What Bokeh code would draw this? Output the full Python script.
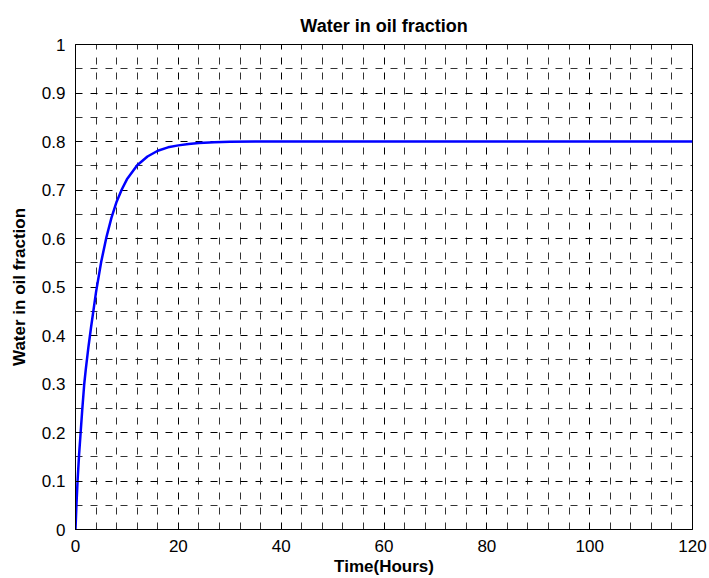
from bokeh.plotting import figure
from bokeh.models import Range1d, FixedTicker, CustomJSTickFormatter
from bokeh.embed import file_html
from bokeh.resources import INLINE

# Data
time_hours = [0, 0.2, 0.4, 0.7, 1, 1.3, 1.7, 2, 2.5, 3, 4, 5, 6, 7, 8, 9, 10,
              12, 14, 16, 18, 20, 22, 24, 27, 30, 35, 40, 60, 80, 100, 120]
water_fraction = [0.0, 0.055, 0.1, 0.155, 0.2, 0.245, 0.3, 0.33, 0.375, 0.415,
                  0.49, 0.552, 0.602, 0.643, 0.676, 0.701, 0.722, 0.751, 0.769,
                  0.781, 0.788, 0.792, 0.795, 0.797, 0.7985, 0.7993, 0.7998,
                  0.8, 0.8, 0.8, 0.8, 0.8]

x_ticks = [0, 20, 40, 60, 80, 100, 120]
x_minor = [4, 8, 12, 16, 24, 28, 32, 36, 44, 48, 52, 56, 64, 68, 72, 76,
           84, 88, 92, 96, 104, 108, 112, 116]
y_ticks = [0, 0.1, 0.2, 0.3, 0.4, 0.5, 0.6, 0.7, 0.8, 0.9, 1.0]
y_minor = [0.05, 0.15, 0.25, 0.35, 0.45, 0.55, 0.65, 0.75, 0.85, 0.95]

FONT = "Liberation Sans"

p = figure(width=709, height=578, output_backend="svg", toolbar_location=None,
           x_range=Range1d(0, 120), y_range=Range1d(0, 1),
           min_border_left=75, min_border_right=17, min_border_top=44,
           min_border_bottom=48,
           title="Water in oil fraction")

p.background_fill_color = "white"
p.border_fill_color = "white"
p.outline_line_color = "black"
p.outline_line_width = 1

p.title.align = "center"
p.title.text_font = FONT
p.title.text_font_size = "18px"
p.title.text_font_style = "bold"
p.title.text_color = "black"
p.title.offset = 0
p.title.standoff = 18

xt = FixedTicker(ticks=x_ticks, minor_ticks=x_minor)
yt = FixedTicker(ticks=y_ticks, minor_ticks=y_minor)
p.xaxis.ticker = xt
p.yaxis.ticker = yt
p.xgrid.ticker = xt
p.ygrid.ticker = yt

p.yaxis.formatter = CustomJSTickFormatter(code="return String(Math.round(tick*10)/10);")
p.xaxis.formatter = CustomJSTickFormatter(code="return String(Math.round(tick));")

for ax in (p.xaxis[0], p.yaxis[0]):
    ax.axis_line_color = "black"
    ax.axis_line_width = 1
    ax.major_tick_line_color = "black"
    ax.major_tick_in = 5
    ax.major_tick_out = 0
    ax.minor_tick_line_color = None
    ax.major_label_text_font = FONT
    ax.major_label_text_font_size = "17px"
    ax.major_label_text_color = "black"
    ax.axis_label_text_font = FONT
    ax.axis_label_text_font_size = "17px"
    ax.axis_label_text_font_style = "bold"
    ax.axis_label_text_color = "black"

p.xaxis.axis_label = "Time(Hours)"
p.yaxis.axis_label = "Water in oil fraction"
p.xaxis.major_label_standoff = 6
p.yaxis.major_label_standoff = 6
p.xaxis.axis_label_standoff = 2
p.yaxis.axis_label_standoff = 10

for g in (p.xgrid[0], p.ygrid[0]):
    g.grid_line_color = "black"
    g.grid_line_dash = "7 8"
    g.grid_line_width = 1
    g.minor_grid_line_color = "black"
    g.minor_grid_line_alpha = 0.8
    g.minor_grid_line_dash = "7 8"
    g.minor_grid_line_width = 1

p.line(time_hours, water_fraction, line_color="#0000ff", line_width=2.5)

open("out.html", "w").write(file_html(p, INLINE))
